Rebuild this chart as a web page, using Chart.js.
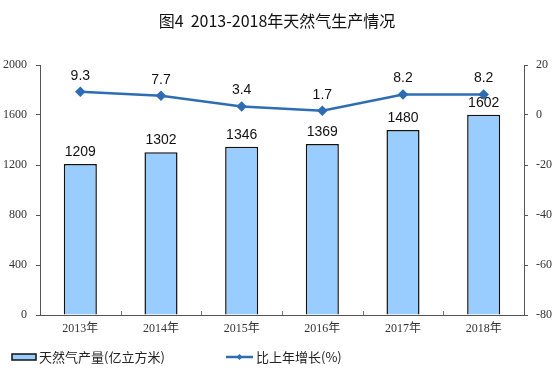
<!DOCTYPE html>
<html>
<head>
<meta charset="utf-8">
<style>
  html, body { margin: 0; padding: 0; background: #fff; }
  #wrap { width: 554px; height: 384px; }
</style>
</head>
<body>
<div id="wrap"><canvas id="myChart" width="554" height="384"></canvas></div>
<script src="https://cdn.jsdelivr.net/npm/chart.js"></script>
<script>
    const titulo = '图4  2013-2018年天然气生产情况';
    const years = ['2013年', '2014年', '2015年', '2016年', '2017年', '2018年'];
    const produccion = [1209, 1302, 1346, 1369, 1480, 1602];
    const crecimiento = [9.3, 7.7, 3.4, 1.7, 8.2, 8.2];
    const nombreBarra = '天然气产量(亿立方米)';
    const nombreLinea = '比上年增长(%)';

    const azulBarra = '#99CCFF';
    const azulLinea = '#2E6DB4';
    const serif = '"Liberation Serif", "Noto Sans CJK SC", serif';
    const cjk = '"Noto Sans CJK SC", sans-serif';

    // titulo, etiquetas de valores, ticks del eje x y leyenda
    const extras = {
        id: 'extras',
        afterDatasetsDraw(chart) {
            const ctx = chart.ctx;
            const x = chart.scales.x;
            ctx.save();
            ctx.fillStyle = '#111';
            ctx.font = '14px "Liberation Sans", Arial, sans-serif';
            ctx.textAlign = 'center';
            ctx.textBaseline = 'bottom';
            chart.getDatasetMeta(0).data.forEach((bar, i) => {
                ctx.fillText(String(produccion[i]), bar.x, bar.y - 5);
            });
            chart.getDatasetMeta(1).data.forEach((pt, i) => {
                ctx.fillText(crecimiento[i].toFixed(1), pt.x, pt.y - 9);
            });

            // marcas pequeñas entre categorias
            ctx.strokeStyle = '#777';
            ctx.lineWidth = 1;
            for (let i = 1; i < years.length; i++) {
                const px = Math.round((x.getPixelForValue(i - 1) + x.getPixelForValue(i)) / 2) + 0.5;
                ctx.beginPath();
                ctx.moveTo(px, chart.chartArea.bottom);
                ctx.lineTo(px, chart.chartArea.bottom - 4);
                ctx.stroke();
            }

            // titulo
            ctx.fillStyle = '#111';
            ctx.font = '16px ' + cjk;
            ctx.textBaseline = 'middle';
            ctx.fillText(titulo, 277, 21);

            // leyenda
            const ly = 357;
            ctx.fillStyle = azulBarra;
            ctx.fillRect(12, ly - 3, 24, 6);
            ctx.strokeStyle = '#111';
            ctx.lineWidth = 1.5;
            ctx.strokeRect(12, ly - 3, 24, 6);
            ctx.fillStyle = '#222';
            ctx.font = '13px ' + cjk;
            ctx.textAlign = 'left';
            ctx.fillText(nombreBarra, 39, ly);

            ctx.strokeStyle = azulLinea;
            ctx.lineWidth = 2.5;
            ctx.beginPath();
            ctx.moveTo(226, ly);
            ctx.lineTo(253, ly);
            ctx.stroke();
            ctx.fillStyle = azulLinea;
            ctx.beginPath();
            ctx.moveTo(239.5, ly - 3);
            ctx.lineTo(242.5, ly);
            ctx.lineTo(239.5, ly + 3);
            ctx.lineTo(236.5, ly);
            ctx.closePath();
            ctx.fill();
            ctx.fillStyle = '#222';
            ctx.fillText(nombreLinea, 256, ly);
            ctx.restore();
        }
    };

    const ctx = document.getElementById('myChart');
    new Chart(ctx, {
        data: {
            labels: years,
            datasets: [{
                type: 'bar',
                label: nombreBarra,
                data: produccion,
                yAxisID: 'y',
                backgroundColor: azulBarra,
                borderColor: '#111',
                borderWidth: 1.5,
                categoryPercentage: 1,
                barPercentage: 0.41,
                order: 2
            }, {
                type: 'line',
                label: nombreLinea,
                data: crecimiento,
                yAxisID: 'y1',
                borderColor: azulLinea,
                backgroundColor: azulLinea,
                borderWidth: 2.5,
                pointStyle: 'rectRot',
                pointRadius: 3.5,
                tension: 0,
                order: 1
            }]
        },
        options: {
            responsive: false,
            animation: false,
            layout: { padding: { top: 65, bottom: 43, left: 0, right: 0 } },
            plugins: {
                legend: { display: false },
                title: { display: false },
                tooltip: { enabled: false }
            },
            scales: {
                x: {
                    offset: true,
                    grid: { display: false, drawTicks: false },
                    border: { color: '#555' },
                    ticks: { color: '#333', font: { family: serif, size: 12 }, padding: 7, maxRotation: 0 },
                    afterFit(s) { s.height = 26; }
                },
                y: {
                    position: 'left',
                    min: 0, max: 2000,
                    ticks: { stepSize: 400, color: '#333', font: { family: serif, size: 12 }, padding: 9,
                        callback: v => String(v) },
                    grid: { drawOnChartArea: false, tickLength: 4, color: '#555' },
                    border: { color: '#555' },
                    afterFit(s) { s.width = 40; }
                },
                y1: {
                    position: 'right',
                    min: -80, max: 20,
                    ticks: { stepSize: 20, color: '#333', font: { family: serif, size: 12 }, padding: 8 },
                    grid: { drawOnChartArea: false, tickLength: 4, color: '#555' },
                    border: { color: '#555' },
                    afterFit(s) { s.width = 30; }
                }
            }
        },
        plugins: [extras]
    });
</script>
</body>
</html>
